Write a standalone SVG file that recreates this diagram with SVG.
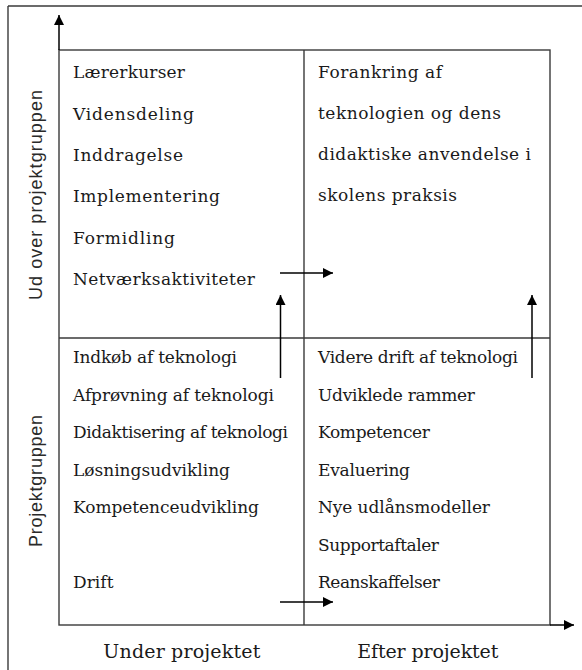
<svg xmlns="http://www.w3.org/2000/svg" width="582" height="670" viewBox="0 0 582 670">
<defs>
<marker id="ah" viewBox="0 0 10 10" refX="10" refY="5" markerWidth="10" markerHeight="10" markerUnits="userSpaceOnUse" orient="auto">
<path d="M0,0 L10,5 L0,10 z" fill="#000"/>
</marker>
<style>
.t{font-family:"DejaVu Serif",serif;font-size:17px;fill:#1a1a1a}
.ax{font-family:"DejaVu Serif",serif;font-size:19px;fill:#1a1a1a}
.vl{font-family:"Liberation Sans",Arial,sans-serif;font-size:18px;fill:#2a2a2a}
.g{stroke:#3a3a3a;stroke-width:1.4;fill:none}
.a{stroke:#000;stroke-width:1.5;fill:none;marker-end:url(#ah)}
</style>
</defs>
<rect width="582" height="670" fill="#fff"/>
<g id="frame">
<line class="g" x1="8" y1="6" x2="582" y2="6"/>
<line class="g" x1="8" y1="6" x2="8" y2="670"/>
</g>
<g id="grid">
<rect class="g" x="59" y="50" width="491" height="575"/>
<line class="g" x1="304" y1="50" x2="304" y2="625"/>
<line class="g" x1="59" y1="338" x2="550" y2="338"/>
</g>
<g id="connectors">
<line class="a" x1="59" y1="50" x2="59" y2="15"/>
<line class="a" x1="550" y1="625" x2="574" y2="625"/>
<line class="a" x1="280.5" y1="378" x2="280.5" y2="295"/>
<line class="a" x1="532" y1="378" x2="532" y2="295"/>
<line class="a" x1="280" y1="273" x2="333" y2="273"/>
<line class="a" x1="280" y1="602" x2="333" y2="602"/>
</g>
<g id="q-top-left">
<text class="t" x="73" y="78" textLength="112">Lærerkurser</text>
<text class="t" x="73" y="119.5" textLength="121">Vidensdeling</text>
<text class="t" x="73" y="161" textLength="110">Inddragelse</text>
<text class="t" x="73" y="202" textLength="147">Implementering</text>
<text class="t" x="73" y="243.5" textLength="102">Formidling</text>
<text class="t" x="73" y="285" textLength="182">Netværksaktiviteter</text>
</g>
<g id="q-top-right">
<text class="t" x="318" y="78" textLength="124">Forankring af</text>
<text class="t" x="318" y="119" textLength="183">teknologien og dens</text>
<text class="t" x="318" y="160" textLength="213">didaktiske anvendelse i</text>
<text class="t" x="318" y="200.5" textLength="139">skolens praksis</text>
</g>
<g id="q-bottom-left">
<text class="t" x="73" y="363" textLength="164">Indkøb af teknologi</text>
<text class="t" x="73" y="400.5" textLength="201">Afprøvning af teknologi</text>
<text class="t" x="73" y="438" textLength="215">Didaktisering af teknologi</text>
<text class="t" x="73" y="475.5" textLength="157">Løsningsudvikling</text>
<text class="t" x="73" y="513" textLength="186">Kompetenceudvikling</text>
<text class="t" x="73" y="588" textLength="40.5">Drift</text>
</g>
<g id="q-bottom-right">
<text class="t" x="318" y="363" textLength="200">Videre drift af teknologi</text>
<text class="t" x="318" y="400.5" textLength="157">Udviklede rammer</text>
<text class="t" x="318" y="438" textLength="112">Kompetencer</text>
<text class="t" x="318" y="475.5" textLength="92">Evaluering</text>
<text class="t" x="318" y="513" textLength="172">Nye udlånsmodeller</text>
<text class="t" x="318" y="550.5" textLength="121">Supportaftaler</text>
<text class="t" x="318" y="588" textLength="122">Reanskaffelser</text>
</g>
<g id="axis-labels">
<text class="ax" x="103.3" y="658" textLength="157">Under projektet</text>
<text class="ax" x="357.3" y="658" textLength="141">Efter projektet</text>
<text class="vl" transform="translate(42,300) rotate(-90)" x="0" y="0" textLength="210">Ud over projektgruppen</text>
<text class="vl" transform="translate(42,547) rotate(-90)" x="0" y="0" textLength="132">Projektgruppen</text>
</g>
</svg>
